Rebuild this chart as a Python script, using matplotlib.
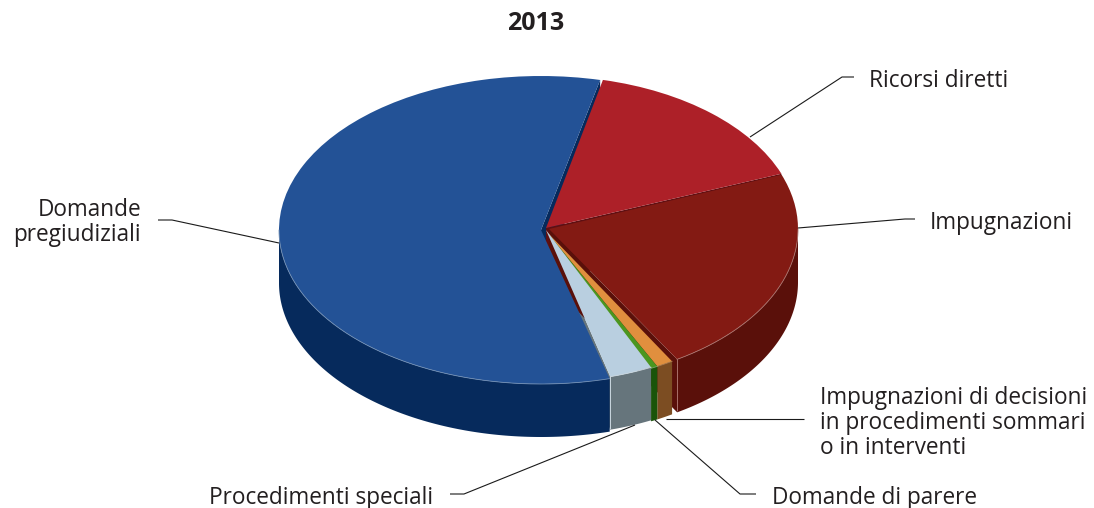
import numpy as np
import matplotlib
matplotlib.use("Agg")
import matplotlib.pyplot as plt
from matplotlib.patches import Polygon
from matplotlib.transforms import Affine2D

# Share of cases per procedure type, 2013 (percent)
categories = ["Domande pregiudiziali", "Ricorsi diretti", "Impugnazioni",
              "Impugnazioni di decisioni in procedimenti sommari o in interventi",
              "Domande di parere", "Procedimenti speciali"]
shares = [57.83, 15.56, 22.20, 1.10, 0.45, 2.83]

top_colors = ["#235296", "#ad2028", "#831a13", "#e08f3e", "#4b961f", "#b9cfe0"]
wall_colors = ["#062a5c", "#6e1218", "#5a100a", "#7c4d22", "#1a5409", "#66757c"]
rim_colors = ["#6f8db3", "#c77", "#a8706a", "#a87c50", "#7aa868", "#c9d6de"]

# Ellipse of each slice on the canvas: centre x, centre y, half width, half height
ellipses = [(541, 230, 262, 154), (546, 228, 252, 152), (549, 229, 249, 152),
            (546, 231, 245, 152), (546, 231, 245, 152), (546, 230, 245, 152)]
DEPTH = 53

plt.rcParams["font.family"] = ["Open Sans", "DejaVu Sans"]
fig = plt.figure(figsize=(10.94, 5.08), dpi=100)
ax = fig.add_axes([0, 0, 1, 1])

wedges, _ = ax.pie(shares, colors=top_colors, startangle=285.2, counterclock=False,
                   wedgeprops=dict(linewidth=0))
ax.set_aspect("auto")
ax.set_xlim(0, 1094)
ax.set_ylim(508, 0)
ax.axis("off")


def arc_points(ell, angles):
    cx, cy, rx, ry = ell
    a = np.radians(angles)
    return np.column_stack([cx + rx * np.cos(a), cy - ry * np.sin(a)])


def cut_face(ell, angle, color, z):
    apex = np.array(ell[:2], float)
    rim = arc_points(ell, [angle])[0]
    d = np.array([0, DEPTH])
    ax.add_patch(Polygon([apex, rim, rim + d, apex + d], closed=True, fc=color, ec="none", zorder=z))


# Radial faces that show in the small gaps between the slices
cut_face(ellipses[5], wedges[5].theta1, "#66757c", 1)
cut_face(ellipses[0], wedges[0].theta1, wall_colors[0], 1)
cut_face(ellipses[1], wedges[1].theta1, "#5e0f12", 1.2)
cut_face(ellipses[2], wedges[2].theta1, wall_colors[2], 1.5)

# Outer walls, then the top faces
for i, w in enumerate(wedges):
    ell = ellipses[i]
    angles = np.linspace(w.theta1, w.theta2, 300)
    angles = angles[np.sin(np.radians(angles)) <= 0]
    if angles.size:
        rim = arc_points(ell, angles)
        poly = np.vstack([rim, rim[::-1] + [0, DEPTH]])
        ax.add_patch(Polygon(poly, closed=True, fc=wall_colors[i], ec="none", zorder=2))
        ax.plot(rim[:, 0], rim[:, 1], color=rim_colors[i], lw=0.6, zorder=3.5)
        left = rim[np.argmin(rim[:, 0])]
        if i in (2, 5):
            ax.plot([left[0], left[0]], [left[1], left[1] + DEPTH - 2], color=rim_colors[i], lw=0.7, zorder=3.5)
    cx, cy, rx, ry = ell
    w.set_transform(Affine2D().scale(rx, -ry).translate(cx, cy) + ax.transData)
    w.set_zorder(3)

# Leader lines
leaders = [
    [(158, 220), (172, 220), (279, 243)],
    [(750, 137), (842, 77), (854, 77)],
    [(798, 228), (905, 219), (915, 219)],
    [(666, 419), (804, 419)],
    [(655, 420), (740, 494), (756, 494)],
    [(450, 494), (464, 494), (635, 425)],
]
for pts in leaders:
    xs, ys = zip(*pts)
    ax.plot(xs, ys, color="#1a1a1a", lw=0.8, zorder=4, solid_capstyle="butt")

FS = 16.3
TXT = "#231f20"
ax.text(536, 23.5, "2013", ha="center", va="center", fontsize=18, fontweight="bold", color=TXT)
ax.text(141, 222.5, "Domande\npregiudiziali", ha="right", va="center", fontsize=FS, color=TXT, linespacing=1.03, multialignment="right")
ax.text(869, 81, "Ricorsi diretti", ha="left", va="center", fontsize=FS, color=TXT)
ax.text(930, 223, "Impugnazioni", ha="left", va="center", fontsize=FS, color=TXT)
ax.text(820, 423, "Impugnazioni di decisioni\nin procedimenti sommari\no in interventi", ha="left", va="center",
        fontsize=FS, color=TXT, linespacing=1.03)
ax.text(772, 498, "Domande di parere", ha="left", va="center", fontsize=FS, color=TXT)
ax.text(209, 498, "Procedimenti speciali", ha="left", va="center", fontsize=FS, color=TXT)

fig.savefig("out.png", dpi=100, facecolor="white")
